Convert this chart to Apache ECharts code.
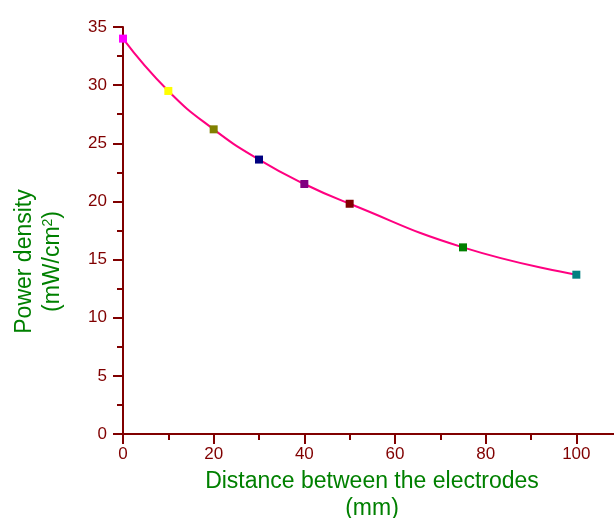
<!DOCTYPE html>
<html>
<head>
<meta charset="utf-8">
<script src="https://cdn.jsdelivr.net/npm/echarts@6/dist/echarts.min.js"></script>
<style>
  html,body{margin:0;padding:0;background:#fff;}
  #chart{width:614px;height:518px;}
</style>
</head>
<body>
<div id="chart"></div>
<script>
// distance between electrodes (mm) and measured power density (mW/cm2)
var distances=[0,10,20,30,40,50,75,100];
var power=[34.0,29.5,26.2,23.6,21.5,19.8,16.05,13.7];
var markerColors=['#FF00FF','#FFFF00','#808000','#000080','#800080','#800000','#008000','#008080'];

window.onload=()=>{
    let axisRed='#800000';
    let titleGreen='#008000';
    let pts=[];
    for(let i=0;i<distances.length;i++){
        pts.push({value:[distances[i],power[i]],itemStyle:{color:markerColors[i]}});
    }

    var myChart=echarts.init(document.getElementById('chart'));
    var option={
        backgroundColor:'#fff',
        animation:false,
        grid:{left:123,right:-53,top:27,bottom:84,outerBoundsMode:'none',containLabel:false},
        xAxis:{
            type:'value',
            min:0,
            max:120,
            interval:20,
            splitLine:{show:false},
            axisLine:{lineStyle:{color:axisRed,width:2}},
            axisTick:{length:10,lineStyle:{color:axisRed,width:2}},
            minorTick:{show:true,splitNumber:2,length:6,lineStyle:{color:axisRed,width:2}},
            axisLabel:{color:axisRed,fontSize:17,fontFamily:'Liberation Sans',margin:12},
            name:'Distance between the electrodes\n(mm)',
            nameLocation:'middle',
            nameGap:29,
            nameTextStyle:{color:titleGreen,fontSize:23,fontFamily:'Liberation Sans',lineHeight:27,padding:[0,46,0,0]}
        },
        yAxis:{
            type:'value',
            min:0,
            max:35,
            interval:5,
            splitLine:{show:false},
            axisLine:{lineStyle:{color:axisRed,width:2}},
            axisTick:{length:10,lineStyle:{color:axisRed,width:2}},
            minorTick:{show:true,splitNumber:2,length:6,lineStyle:{color:axisRed,width:2}},
            axisLabel:{color:axisRed,fontSize:17,fontFamily:'Liberation Sans',margin:16},
            name:'Power density\n(mW/cm{sup|2})',
            nameLocation:'middle',
            nameRotate:90,
            nameGap:56,
            nameTextStyle:{
                color:titleGreen,fontSize:23,fontFamily:'Liberation Sans',lineHeight:28,
                padding:[0,62,0,0],
                rich:{
                    sup:{color:titleGreen,fontSize:14,fontFamily:'Liberation Sans',verticalAlign:'bottom',padding:[0,0,12,0]}
                }
            }
        },
        series:[{
            type:'line',
            data:pts,
            smooth:true,
            symbol:'rect',
            symbolSize:8,
            clip:false,
            lineStyle:{color:'#FF0080',width:2}
        }]
    };
    myChart.setOption(option);
}
</script>
</body>
</html>
